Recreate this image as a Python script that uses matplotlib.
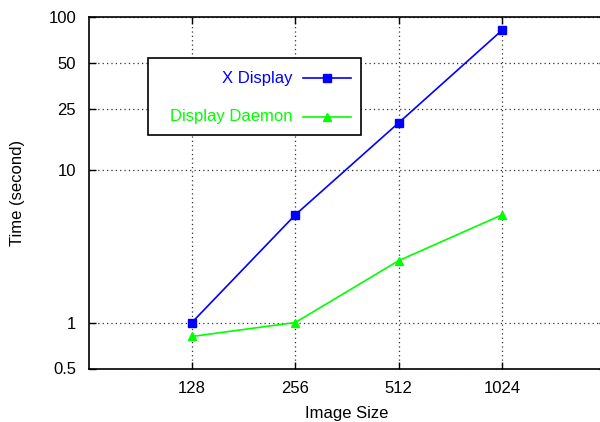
import matplotlib
matplotlib.use("Agg")
import matplotlib.pyplot as plt
from matplotlib.patches import Rectangle
from matplotlib.lines import Line2D

sizes = [128, 256, 512, 1024]
x_display = [1.0, 5.07, 20.3, 82.0]
daemon = [0.81, 1.0, 2.54, 5.07]
y_ticks = [0.5, 1, 10, 25, 50, 100]
y_tick_labels = ["0.5", "1", "10", "25", "50", "100"]
series_names = ["X Display", "Display Daemon"]

plt.rcParams['font.family'] = ['Liberation Sans', 'DejaVu Sans']

fig = plt.figure(figsize=(6.0, 4.22), dpi=100)
ax = fig.add_axes([88.5/600, (422-368.5)/422, (605.5-88.5)/600, (368.5-17)/422])

ax.set_xscale('log', base=2)
ax.set_yscale('log')
ax.set_xlim(64, 2048)
ax.set_ylim(0.5, 100)

ax.plot(sizes, x_display, color='#0000ff', lw=1.2, marker='s', ms=5.5,
        label=series_names[0], zorder=3, clip_on=False)
ax.plot(sizes, daemon, color='#00ff00', lw=1.2, marker='^', ms=6,
        label=series_names[1], zorder=3, clip_on=False)

ax.set_xticks(sizes)
ax.set_xticklabels([str(s) for s in sizes])
ax.set_yticks(y_ticks)
ax.set_yticklabels(y_tick_labels)
ax.minorticks_off()
ax.tick_params(direction='in', length=5, width=1, top=True, right=True,
               labelsize=12, pad=9)
ax.grid(True, color='#333333', linestyle=(0, (1, 2.5)), linewidth=0.9)
for s in ax.spines.values():
    s.set_linewidth(1.2)

ax.set_xlabel("Image Size", fontsize=12, labelpad=7)
ax.set_ylabel("Time (second)", fontsize=12, labelpad=17)

# legend drawn in figure pixel coordinates
def fx(px):
    return px / 600
def fy(py):
    return 1 - py / 422

fig.patches.append(Rectangle((fx(148), fy(135)), fx(361) - fx(148), fy(58) - fy(135),
                             transform=fig.transFigure, facecolor='white',
                             edgecolor='black', linewidth=1.2, zorder=5))
entries = [(series_names[0], '#0000ff', 's', 5.5, 78),
           (series_names[1], '#00ff00', '^', 6, 117)]
for name, col, mk, ms, py in entries:
    fig.text(fx(292), fy(py), name, color=col, fontsize=12, ha='right',
             va='center', zorder=6)
    fig.lines.append(Line2D([fx(303), fx(351)], [fy(py), fy(py)],
                            transform=fig.transFigure, color=col, lw=1.2, zorder=6))
    fig.lines.append(Line2D([fx(327)], [fy(py)], transform=fig.transFigure,
                            color=col, marker=mk, ms=ms, lw=0, zorder=6))

fig.savefig("out.png", dpi=100)
